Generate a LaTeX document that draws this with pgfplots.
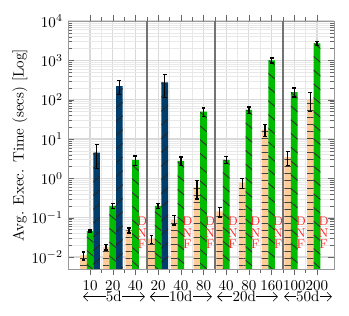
\documentclass[border=0pt]{standalone}
\usepackage{pgfplots}
\pgfplotsset{compat=1.18}
\usetikzlibrary{patterns.meta,arrows.meta}
\definecolor{cOr}{RGB}{255,204,153}
\definecolor{cGr}{RGB}{0,187,0}
\definecolor{cBl}{RGB}{0,61,107}
\definecolor{cDnf}{RGB}{255,40,40}
\begin{document}
\begin{tikzpicture}
\begin{axis}[name=ax,
 width=177pt, height=165pt, scale only axis,
 ymode=log, ymin=0.005, ymax=1e4,
 xmin=-0.97, xmax=10.75,
 ybar=0pt, bar width=4.4pt,
 clip mode=individual,
 xtick={0,...,10},
 xticklabels={10,20,40,20,40,80,40,80,160,100,200},
 xticklabel style={inner sep=0.5pt, yshift=-2.6pt},
 minor x tick num=1,
 grid=both,
 major grid style={gray!30, line width=0.8pt},
 minor grid style={gray!18, line width=0.4pt},
 ytick={1e-2,1e-1,1,10,100,1000,10000},
 axis line style={gray!80},
 tick style={black!60},
 ylabel={Avg. Exec. Time (secs) [Log]},
 ylabel shift=-4pt,
 extra x ticks={2.5,5.5,8.5}, extra x tick labels={},
 extra x tick style={grid=major, major grid style={black!55, line width=1pt}, major tick length=0pt},
 log origin=infty,
 error bars/y dir=both, error bars/y explicit,
 error bars/error bar style={black, line width=0.9pt},
 error bars/error mark options={rotate=90, mark size=1.3pt, line width=0.9pt, black},
]
\addplot[fill=cOr, draw=none, postaction={pattern={Lines[angle=0,distance=4.7pt,line width=0.6pt]}, pattern color=black!75}]
 coordinates {(0,0.011)+-(0,0.0025) (1,0.018)+-(0,0.003) (2,0.048)+-(0,0.007) (3,0.029)+-(0,0.007) (4,0.09)+-(0,0.025) (5,0.6)+-(0,0.3) (6,0.145)+-(0,0.04) (7,0.78)+-(0,0.23) (8,17.5)+-(0,6) (9,3.45)+-(0,1.35) (10,100)+-(0,50)};
\addplot[fill=cGr, draw=none, postaction={pattern={Lines[angle=-40,distance=7pt,line width=0.6pt]}, pattern color=black!80}]
 coordinates {(0,0.046)+-(0,0.003) (1,0.2)+-(0,0.03) (2,2.95)+-(0,0.8) (3,0.2)+-(0,0.03) (4,2.8)+-(0,0.7) (5,50)+-(0,12) (6,2.95)+-(0,0.6) (7,55)+-(0,10) (8,1000)+-(0,150) (9,157)+-(0,40) (10,2700)+-(0,300)};
\addplot[fill=cBl, draw=none, postaction={pattern={Lines[angle=40,distance=7pt,line width=0.6pt]}, pattern color=black!85}]
 coordinates {(0,4.5)+-(0,2.7) (1,223)+-(0,85) (3,275)+-(0,160)};
\foreach \c in {2,4,5,6,7,8,9,10}{
 \edef\tmp{\noexpand\node[text=cDnf, align=center, font=\noexpand\fontsize{8.5}{7.7}\noexpand\selectfont, inner sep=0pt] at (axis cs:\c.29,0.041) {D\noexpand\\N\noexpand\\F};}
 \tmp
}
\draw[{Straight Barb[length=3pt]}-{Straight Barb[length=3pt]}] ([yshift=-18.5pt]axis cs:-0.31,0.005) -- ([yshift=-18.5pt]axis cs:2.42,0.005);
\draw[{Straight Barb[length=3pt]}-{Straight Barb[length=3pt]}] ([yshift=-18.5pt]axis cs:2.64,0.005) -- ([yshift=-18.5pt]axis cs:5.37,0.005);
\draw[{Straight Barb[length=3pt]}-{Straight Barb[length=3pt]}] ([yshift=-18.5pt]axis cs:5.6,0.005) -- ([yshift=-18.5pt]axis cs:8.28,0.005);
\draw[{Straight Barb[length=3pt]}-{Straight Barb[length=3pt]}] ([yshift=-18.5pt]axis cs:8.55,0.005) -- ([yshift=-18.5pt]axis cs:10.66,0.005);
\node[fill=white, inner sep=0.3pt] at ([yshift=-18.5pt]axis cs:1.05,0.005) {5d};
\node[fill=white, inner sep=0.3pt] at ([yshift=-18.5pt]axis cs:4.0,0.005) {10d};
\node[fill=white, inner sep=0.3pt] at ([yshift=-18.5pt]axis cs:6.8,0.005) {20d};
\node[fill=white, inner sep=0.3pt] at ([yshift=-18.5pt]axis cs:9.6,0.005) {50d};
\end{axis}
\pgfresetboundingbox
\path ([xshift=-45.3pt,yshift=-30.7pt]ax.south west) rectangle ([xshift=10pt,yshift=14pt]ax.north east);
\end{tikzpicture}
\end{document}
